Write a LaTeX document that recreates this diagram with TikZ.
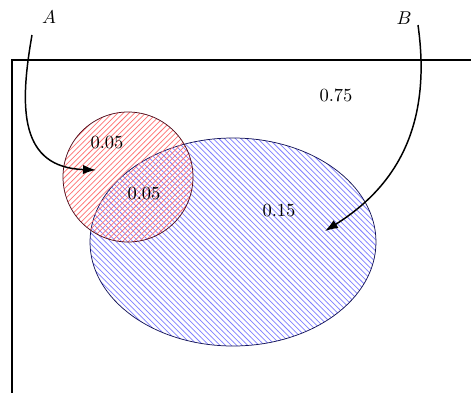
\documentclass[tikz,border=0pt]{standalone}
\definecolor{DarkRed}{RGB}{80,10,25}
\definecolor{DarkNavy}{RGB}{20,20,90}
\usepackage{tikz}
\usetikzlibrary{arrows.meta, patterns, positioning}

\begin{document}
\begin{tikzpicture}[x=0.54pt, y=-0.54pt,
  prob/.style={inner sep=1pt},
  curvearrow/.style={thick, -{Latex[length=7pt, width=5pt]}}
]
\useasboundingbox (0,0) rectangle (471,392);
\begin{scope}
\clip (0,0) rectangle (471,392);
% sample space
\draw[thick] (12,392+5) -- (12,60) -- (471+5,60);
% events
\draw[DarkNavy, pattern=north west lines, pattern color=blue!50] (233,242) ellipse [x radius=143, y radius=104];
\draw[DarkRed, pattern=north east lines, pattern color=red!55] (128,177) circle [radius=65];
\end{scope}

\node[prob] (pA) at (107,143) {$0.05$};
\node[prob] (pAB) at (144,194) {$0.05$};
\node[prob] (pB) at (279,211) {$0.15$};
\node[prob] (pNone) at (336,96) {$0.75$};

\node (labA) at (49,17) {$A$};
\node (labB) at (404,18) {$B$};

\coordinate (a-tail) at (32,35);
\coordinate (a-tip) at (96,170);
\coordinate (b-tail) at (418,25);
\coordinate (b-tip) at (325,231);
\draw[curvearrow] (a-tail) to[out=-100, in=178, looseness=1.3] (a-tip);
\draw[curvearrow] (b-tail) to[out=-82, in=32, looseness=1.05] (b-tip);
\end{tikzpicture}
\end{document}
